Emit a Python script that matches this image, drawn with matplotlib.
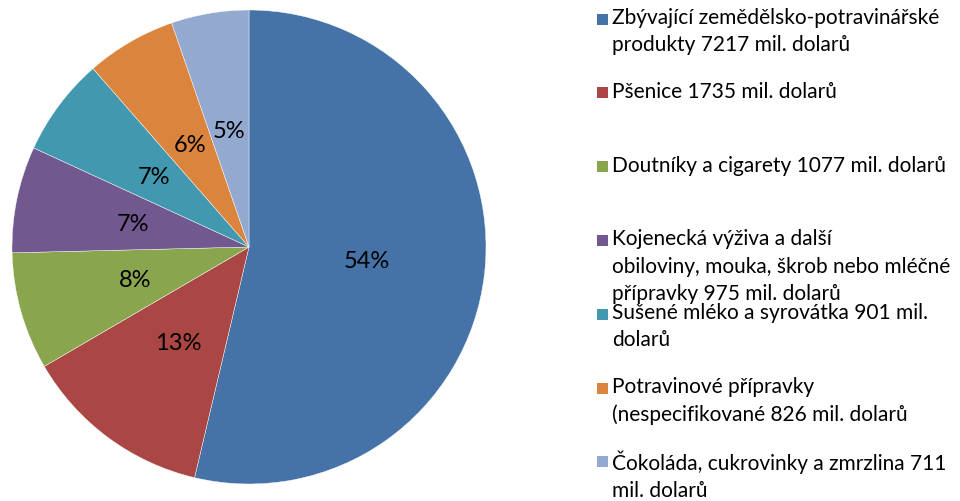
import matplotlib
matplotlib.use('Agg')
import matplotlib.pyplot as plt
from matplotlib.patches import Rectangle

plt.rcParams['font.family'] = ['Lato', 'DejaVu Sans']

labels = [
    'Zbývající zemědělsko-potravinářské\nprodukty 7217 mil. dolarů',
    'Pšenice 1735 mil. dolarů',
    'Doutníky a cigarety 1077 mil. dolarů',
    'Kojenecká výživa a další\nobiloviny, mouka, škrob nebo mléčné\npřípravky 975 mil. dolarů',
    'Sušené mléko a syrovátka 901 mil.\ndolarů',
    'Potravinové přípravky\n(nespecifikované 826 mil. dolarů',
    'Čokoláda, cukrovinky a zmrzlina 711\nmil. dolarů',
]
values = [7217, 1735, 1077, 975, 901, 826, 711]
colors = ['#4572A7', '#AA4643', '#89A54E', '#71588F', '#4198AF', '#DB843D', '#93A9CF']

W, H = 960, 502
fig = plt.figure(figsize=(W / 100, H / 100), dpi=100)

# pie: center (249, 248) px, radius 237 px
cx, cy, r = 249, 248, 237
ax = fig.add_axes([(cx - r) / W, (H - cy - r) / H, 2 * r / W, 2 * r / H])
wedges, texts, autotexts = ax.pie(
    values, colors=colors, startangle=90, counterclock=False,
    autopct='%1.0f%%', pctdistance=0.5,
    wedgeprops=dict(edgecolor='white', linewidth=0.3),
    textprops=dict(fontsize=17, color='black'))
ax.set_xlim(-1, 1)
ax.set_ylim(-1, 1)
ax.set_aspect('auto')
ax.axis('off')

# legend drawn by hand (Excel-like fixed spacing)
y0, step = 20, 73.8
for i, (w, lab) in enumerate(zip(wedges, labels)):
    y = y0 + i * step
    fig.add_artist(Rectangle((597 / W, 1 - (y + 5.5) / H), 11 / W, 11 / H,
                             facecolor=w.get_facecolor(), edgecolor='none',
                             transform=fig.transFigure))
    fig.text(612 / W, 1 - (y - 12) / H, lab, fontsize=15, va='top',
             ha='left', linespacing=1.45)

fig.savefig('out.png', dpi=100)
